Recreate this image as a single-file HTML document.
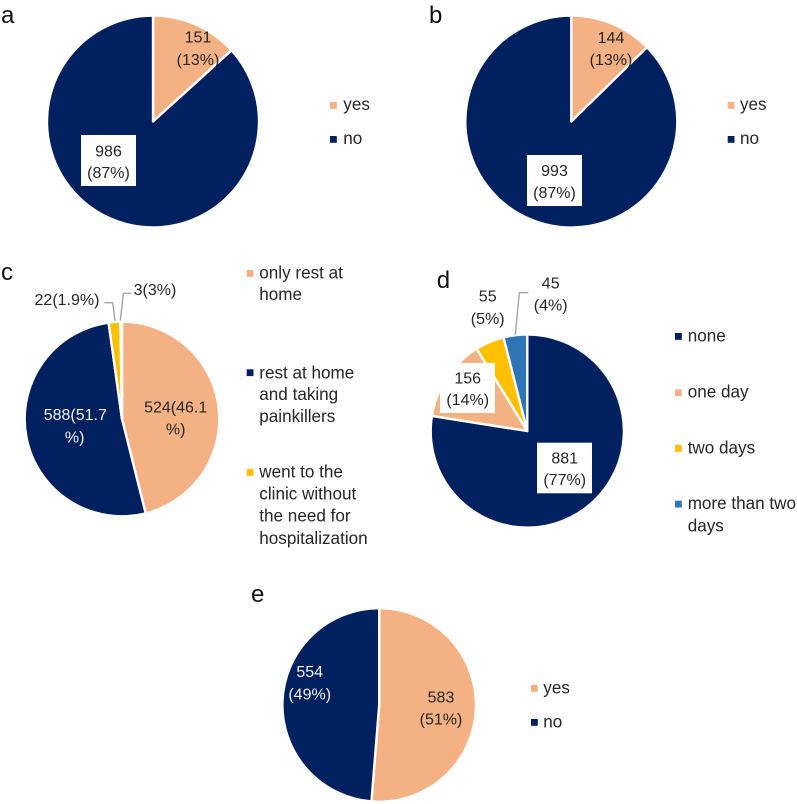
<!DOCTYPE html>
<html lang="en">
<head>
<meta charset="utf-8">
<title>Pie charts a–e</title>
<style>
html,body{margin:0;padding:0;background:#fff;width:797px;height:804px;overflow:hidden}
svg{display:block}
text{font-family:"Liberation Sans",sans-serif;font-size:16px;fill:#262626}
.mid{text-anchor:middle}
.light{fill:#f2f2f2}
.panel{font-size:24px;fill:#111}
.legend{font-size:17.1px}
.leader{fill:none;stroke:#a6a6a6;stroke-width:1.4}
.box{fill:#fff}
</style>
</head>
<body>
<svg id="figure" width="797" height="804" viewBox="0 0 797 804" xmlns="http://www.w3.org/2000/svg">
  <rect width="797" height="804" fill="#fff"/>

  <!-- Chart a -->
  <g id="chart-a">
    <g id="slices-a"></g>
    <text class="panel" x="1" y="23">a</text>
    <text class="mid" x="198" y="42.5">151</text>
    <text class="mid" x="198" y="65">(13%)</text>
    <rect class="box" x="81" y="135" width="55" height="51"/>
    <text class="mid" x="108.5" y="156.5">986</text>
    <text class="mid" x="108.5" y="178">(87%)</text>
    <rect x="330" y="102" width="6.8" height="6.8" fill="#f4b183"/>
    <text class="legend" x="343.3" y="110">yes</text>
    <rect x="330" y="136" width="6.8" height="6.8" fill="#002060"/>
    <text class="legend" x="343.3" y="144">no</text>
  </g>

  <!-- Chart b -->
  <g id="chart-b">
    <g id="slices-b"></g>
    <text class="panel" x="429" y="23">b</text>
    <text class="mid" x="611" y="43">144</text>
    <text class="mid" x="611" y="65">(13%)</text>
    <rect class="box" x="527" y="155" width="55" height="51"/>
    <text class="mid" x="554.5" y="176">993</text>
    <text class="mid" x="554.5" y="198">(87%)</text>
    <rect x="727.7" y="102" width="6.8" height="6.8" fill="#f4b183"/>
    <text class="legend" x="740" y="110">yes</text>
    <rect x="727.7" y="136" width="6.8" height="6.8" fill="#002060"/>
    <text class="legend" x="740" y="144">no</text>
  </g>

  <!-- Chart c -->
  <g id="chart-c">
    <g id="slices-c"></g>
    <text class="panel" x="1" y="280">c</text>
    <polyline class="leader" points="104.3,302.7 112.7,302.7 115,320.7"/>
    <polyline class="leader" points="131,293.3 123.3,293.3 120.3,320.7"/>
    <text class="mid" x="67" y="305">22(1.9%)</text>
    <text class="mid" x="155" y="295">3(3%)</text>
    <text class="mid" x="175.7" y="412.3">524(46.1</text>
    <text class="mid" x="175.7" y="434.3">%)</text>
    <text class="mid light" x="75.3" y="420">588(51.7</text>
    <text class="mid light" x="74.7" y="442.3">%)</text>
    <rect x="246.7" y="270" width="6.8" height="6.8" fill="#f4b183"/>
    <text class="legend"><tspan x="259.3" y="278.3">only rest at</tspan><tspan x="259.3" y="300">home</tspan></text>
    <rect x="246.7" y="369.3" width="6.8" height="6.8" fill="#002060"/>
    <text class="legend"><tspan x="259.3" y="378.3">rest at home</tspan><tspan x="259.3" y="400">and taking</tspan><tspan x="259.3" y="422">painkillers</tspan></text>
    <rect x="246.7" y="469" width="6.8" height="6.8" fill="#ffc000"/>
    <text class="legend"><tspan x="259.3" y="477.7">went to the</tspan><tspan x="259.3" y="499.7">clinic without</tspan><tspan x="259.3" y="521.7">the need for</tspan><tspan x="259.3" y="544">hospitalization</tspan></text>
  </g>

  <!-- Chart d -->
  <g id="chart-d">
    <g id="slices-d"></g>
    <text class="panel" x="436.7" y="288">d</text>
    <polyline class="leader" points="528.3,292.7 519.3,292.7 515.3,335"/>
    <text class="mid" x="487.7" y="301.7">55</text>
    <text class="mid" x="487.7" y="324">(5%)</text>
    <text class="mid" x="550.7" y="288.3">45</text>
    <text class="mid" x="550.7" y="310.7">(4%)</text>
    <rect class="box" x="440" y="363" width="55" height="50"/>
    <text class="mid" x="467.7" y="383.3">156</text>
    <text class="mid" x="467.7" y="405">(14%)</text>
    <rect class="box" x="537" y="442.7" width="55" height="50.6"/>
    <text class="mid" x="564.7" y="463.3">881</text>
    <text class="mid" x="564.7" y="485">(77%)</text>
    <rect x="675" y="333" width="6.8" height="6.8" fill="#002060"/>
    <text class="legend" x="687.7" y="341.7">none</text>
    <rect x="675" y="389.3" width="6.8" height="6.8" fill="#f4b183"/>
    <text class="legend" x="687.7" y="397.7">one day</text>
    <rect x="675" y="445" width="6.8" height="6.8" fill="#ffc000"/>
    <text class="legend" x="687.7" y="453.3">two days</text>
    <rect x="675" y="500.7" width="6.8" height="6.8" fill="#2e75b6"/>
    <text class="legend"><tspan x="687.7" y="509">more than two</tspan><tspan x="687.7" y="531.7">days</tspan></text>
  </g>

  <!-- Chart e -->
  <g id="chart-e">
    <g id="slices-e"></g>
    <text class="panel" x="251" y="602">e</text>
    <text class="mid light" x="309.7" y="677">554</text>
    <text class="mid light" x="309.7" y="699.3">(49%)</text>
    <text class="mid" x="441" y="702.7">583</text>
    <text class="mid" x="441" y="724.3">(51%)</text>
    <rect x="531" y="685" width="6.8" height="6.8" fill="#f4b183"/>
    <text class="legend" x="543.3" y="693.3">yes</text>
    <rect x="531" y="719" width="6.8" height="6.8" fill="#002060"/>
    <text class="legend" x="543.3" y="727.3">no</text>
  </g>
</svg>

<script>
// Chart data
const valuesA = [151, 986];
const valuesB = [144, 993];
const valuesC = [524, 588, 22, 3];
const valuesD = [881, 156, 55, 45];
const valuesE = [583, 554];

const categoriesA = ['yes', 'no'];
const categoriesB = ['yes', 'no'];
const categoriesC = ['only-rest', 'painkillers', 'clinic', 'other'];
const categoriesD = ['none', 'one-day', 'two-days', 'more-than-two'];
const categoriesE = ['yes', 'no'];

const NAVY = '#002060';
const PEACH = '#f4b183';
const GOLD = '#ffc000';
const BLUE = '#2e75b6';
const SVG_NS = 'http://www.w3.org/2000/svg';

function angleScale(total) {
  return function (v) { return (v / total) * 2 * Math.PI; };
}

function pointAt(cx, cy, r, a) {
  return [cx + r * Math.sin(a), cy - r * Math.cos(a)];
}

function drawPie(groupId, values, names, colors, cx, cy, r) {
  const group = document.getElementById(groupId);
  const total = values.reduce(function (s, v) { return s + v; }, 0);
  const toAngle = angleScale(total);
  let start = 0;
  values.forEach(function (v, i) {
    const end = start + toAngle(v);
    const p0 = pointAt(cx, cy, r, start);
    const p1 = pointAt(cx, cy, r, end);
    const large = end - start > Math.PI ? 1 : 0;
    const el = document.createElementNS(SVG_NS, 'path');
    el.setAttribute('d', 'M' + cx + ' ' + cy + ' L' + p0[0] + ' ' + p0[1] +
      ' A' + r + ' ' + r + ' 0 ' + large + ' 1 ' + p1[0] + ' ' + p1[1] + ' Z');
    el.setAttribute('fill', colors[i]);
    el.setAttribute('stroke', '#fff');
    el.setAttribute('stroke-width', '2.4');
    el.setAttribute('stroke-linejoin', 'round');
    
    
    group.appendChild(el);
    start = end;
  });
}

drawPie('slices-a', valuesA, categoriesA, [PEACH, NAVY], 153, 121.5, 106);
drawPie('slices-b', valuesB, categoriesB, [PEACH, NAVY], 571.3, 121.5, 106);
drawPie('slices-c', valuesC, categoriesC, [PEACH, NAVY, GOLD, BLUE], 122, 419, 97.3);
drawPie('slices-d', valuesD, categoriesD, [NAVY, PEACH, GOLD, BLUE], 527.3, 431, 96.6);
drawPie('slices-e', valuesE, categoriesE, [PEACH, NAVY], 379.2, 705, 96.8);
</script>
</body>
</html>
